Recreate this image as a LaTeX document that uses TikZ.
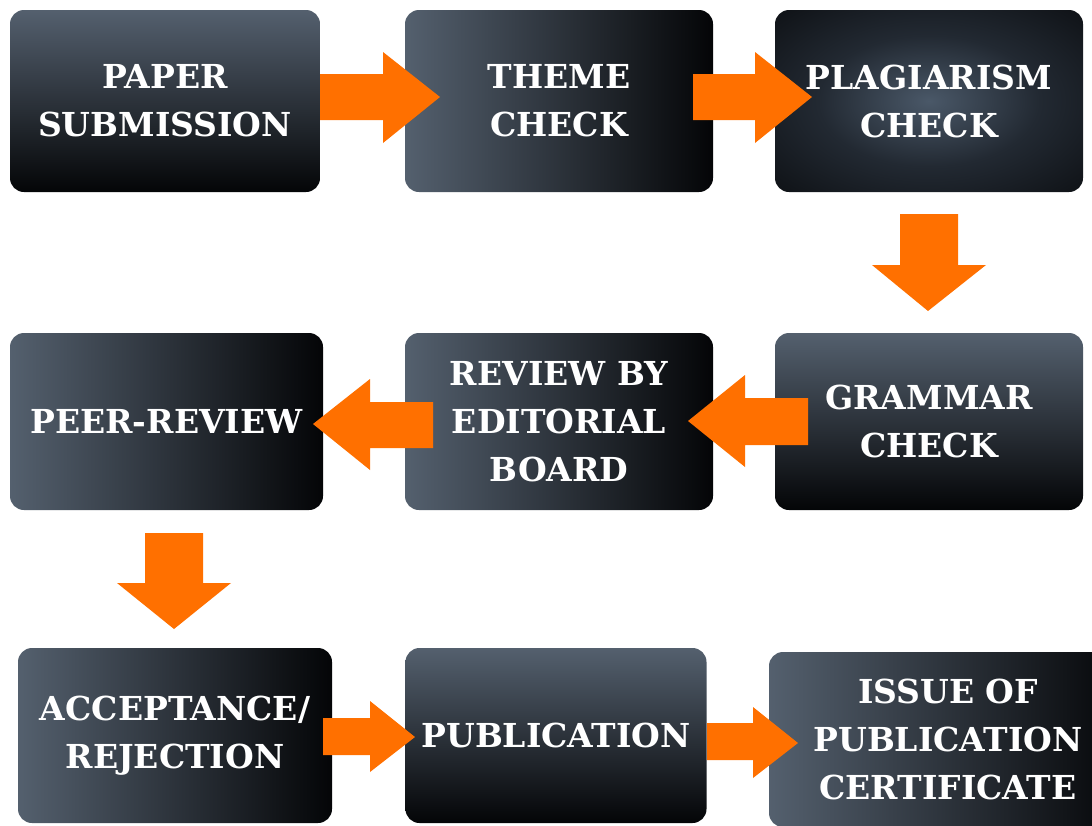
\documentclass[tikz,border=0pt]{standalone}
\usepackage{fontspec}
\setmainfont{DejaVu Serif}
\begin{document}
\begin{tikzpicture}[x=1pt,y=-1pt]
\definecolor{boxlight}{RGB}{84,96,110}
\definecolor{boxdark}{RGB}{4,5,7}
\definecolor{radlight}{RGB}{74,88,104}
\definecolor{radmid}{RGB}{34,41,50}
\definecolor{raddark}{RGB}{10,12,15}
\definecolor{arroworange}{RGB}{255,112,0}
\pgfdeclareradialshading{softrad}{\pgfpoint{0bp}{0bp}}{color(0bp)=(radlight); color(18bp)=(radmid); color(40bp)=(raddark); color(50bp)=(raddark)}
\tikzset{
  stepbox/.style={rectangle, rounded corners=14pt, text=white, align=center,
    inner sep=0pt, font=\fontsize{33}{48}\selectfont\bfseries},
  vgrad/.style={top color=boxlight, bottom color=boxdark},
  hgrad/.style={left color=boxlight, right color=boxdark},
  rgrad/.style={shading=softrad},
  blockarrow/.style={fill=arroworange}
}
\useasboundingbox (0,0) rectangle (1092,825);
\fill[white] (0,0) rectangle (1092,825);

% Row 1
\node[stepbox, vgrad, minimum width=310pt, minimum height=182pt] (paper) at (165,101) {PAPER\\SUBMISSION};
\node[stepbox, hgrad, minimum width=308pt, minimum height=182pt] (theme) at (559,101) {THEME\\CHECK};
\node[stepbox, rgrad, minimum width=308pt, minimum height=182pt] (plag) at (929,101) {PLAGIARISM\\CHECK};

% Row 2
\node[stepbox, vgrad, minimum width=308pt, minimum height=177pt] (grammar) at (929,421.5) {GRAMMAR\\CHECK};
\node[stepbox, hgrad, minimum width=308pt, minimum height=177pt] (editorial) at (559,421.5) {REVIEW BY\\EDITORIAL\\BOARD};
\node[stepbox, hgrad, minimum width=313pt, minimum height=177pt] (peer) at (166.5,421.5) {PEER-REVIEW};

% Row 3
\node[stepbox, hgrad, minimum width=314pt, minimum height=175pt] (accept) at (175,735.5) {ACCEPTANCE/\\REJECTION};
\node[stepbox, vgrad, minimum width=301pt, minimum height=175pt] (pub) at (556,735.5) {PUBLICATION};
\node[stepbox, hgrad, minimum width=358pt, minimum height=175pt] (issue) at (948,739.5) {ISSUE OF\\PUBLICATION\\CERTIFICATE};

% Block arrows
\fill[blockarrow] (320,74) -- (383,74) -- (383,52) -- (440,97) -- (383,143) -- (383,120) -- (320,120) -- cycle;
\fill[blockarrow] (693,74) -- (755,74) -- (755,52) -- (812,97) -- (755,143) -- (755,120) -- (693,120) -- cycle;
\fill[blockarrow] (900,214) -- (958,214) -- (958,265) -- (986,265) -- (928,311) -- (872,265) -- (900,265) -- cycle;
\fill[blockarrow] (808,398) -- (745,398) -- (745,375) -- (688,421) -- (745,467) -- (745,445) -- (808,445) -- cycle;
\fill[blockarrow] (433,402) -- (370,402) -- (370,379) -- (313,424) -- (370,470) -- (370,448) -- (433,448) -- cycle;
\fill[blockarrow] (145,533) -- (203,533) -- (203,583) -- (231,583) -- (174,629) -- (117,583) -- (145,583) -- cycle;
\fill[blockarrow] (323,718) -- (370,718) -- (370,701) -- (415,737) -- (370,772) -- (370,755) -- (323,755) -- cycle;
\fill[blockarrow] (707,723) -- (753,723) -- (753,707) -- (798,743) -- (753,778) -- (753,760) -- (707,760) -- cycle;
\end{tikzpicture}
\end{document}
